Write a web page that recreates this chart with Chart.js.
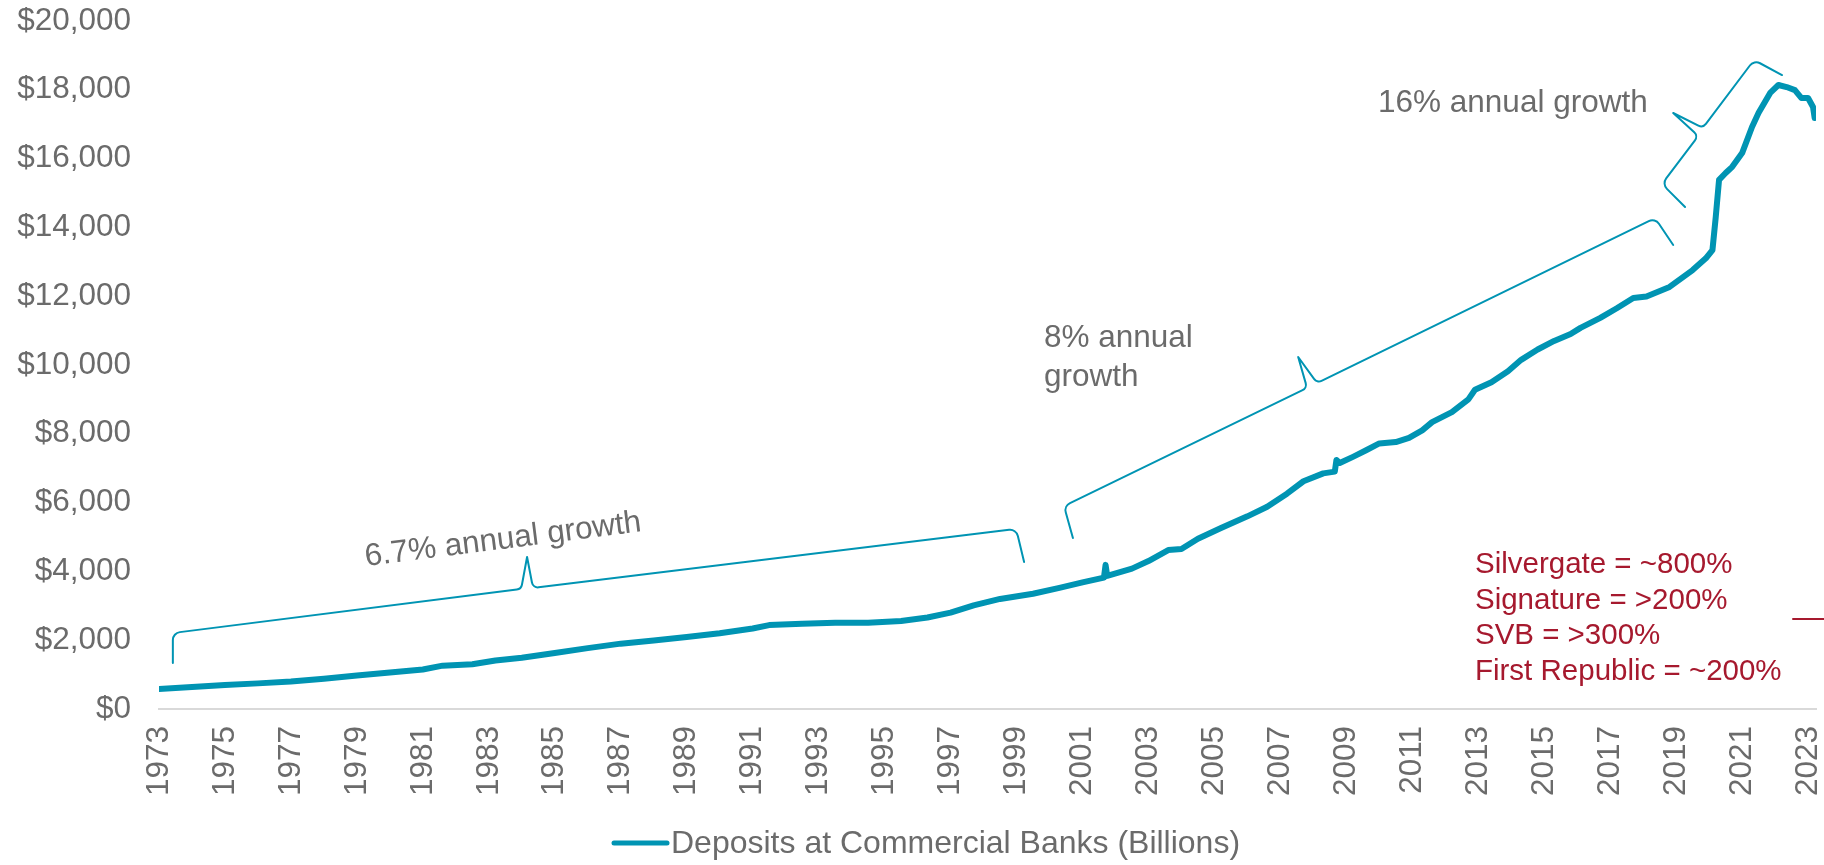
<!DOCTYPE html>
<html>
<head>
<meta charset="utf-8">
<title>Deposits at Commercial Banks</title>
<script src="https://cdn.jsdelivr.net/npm/chart.js@4.4.0/dist/chart.umd.min.js"></script>
<style>
  html, body { margin: 0; padding: 0; background: #fff; }
  #chart { display: block; }
</style>
</head>
<body>
<canvas id="chart" width="1824" height="865"></canvas>
<script>
'use strict';

// ***** DATA *****
const years = [
  1973.0, 1974.0, 1975.0, 1976.0, 1977.0, 1978.0, 1979.0, 1980.0, 1981.0, 1981.6,
  1982.5, 1983.2, 1984.0, 1985.0, 1986.0, 1987.0, 1988.0, 1989.0, 1990.0, 1991.0,
  1991.5, 1992.5, 1993.5, 1994.5, 1995.5, 1996.3, 1997.0, 1997.7, 1998.5, 1999.5,
  2000.3, 2001.0, 2001.65, 2001.7, 2001.75, 2002.5, 2003.0, 2003.6, 2004.0, 2004.5,
  2005.2, 2006.0, 2006.6, 2007.2, 2007.7, 2008.3, 2008.65, 2008.7, 2008.8, 2009.2,
  2009.6, 2010.0, 2010.5, 2010.9, 2011.3, 2011.6, 2012.2, 2012.7, 2012.9, 2013.4,
  2013.9, 2014.3, 2014.8, 2015.3, 2015.8, 2016.1, 2016.7, 2017.2, 2017.7, 2018.1,
  2018.8, 2019.5, 2019.9, 2020.1, 2020.2, 2020.3, 2020.5, 2020.7, 2021.0, 2021.3,
  2021.5, 2021.85, 2022.1, 2022.35, 2022.6, 2022.8, 2023.0, 2023.15, 2023.2
];
const deposits = [
  580, 640, 700, 745, 800, 880, 975, 1060, 1150, 1260,
  1300, 1410, 1490, 1630, 1770, 1900, 1990, 2090, 2200, 2340,
  2440, 2480, 2510, 2510, 2560, 2660, 2800, 3010, 3200, 3350,
  3520, 3680, 3820, 4190, 3870, 4080, 4300, 4620, 4650, 4950,
  5260, 5600, 5880, 6260, 6620, 6850, 6900, 7240, 7150, 7330,
  7520, 7720, 7760, 7880, 8100, 8340, 8630, 9000, 9280, 9500,
  9820, 10150, 10450, 10700, 10900, 11080, 11370, 11650, 11950, 11990,
  12270, 12760, 13100, 13340, 14300, 15380, 15580, 15760, 16160, 16920,
  17330, 17910, 18140, 18080, 17990, 17760, 17760, 17500, 17180
];
const yearTicks = [
  1973, 1975, 1977, 1979, 1981, 1983, 1985, 1987, 1989, 1991, 1993, 1995, 1997,
  1999, 2001, 2003, 2005, 2007, 2009, 2011, 2013, 2015, 2017, 2019, 2021, 2023
];
const depositTicks = [0, 2000, 4000, 6000, 8000, 10000, 12000, 14000, 16000, 18000, 20000];
const seriesLabel = 'Deposits at Commercial Banks (Billions)';

// growth braces as [year, billions]: tail, corner, tip base, tip, tip base, corner, tail
const braceEarly = [
  [1973.42, 1337], [1973.42, 2209], [1983.98, 3488], [1984.16, 4419],
  [1984.34, 3517], [1998.99, 5233], [1999.23, 4273]
];
const braceMiddle = [
  [2000.71, 4971], [2000.44, 5901], [2007.81, 9332], [2007.54, 10233],
  [2008.11, 9477], [2018.36, 14273], [2018.91, 13488]
];
const braceLate = [
  [2022.21, 18430], [2021.36, 18866], [2019.81, 16890], [2018.91, 17326],
  [2019.67, 16657], [2018.57, 15262], [2019.27, 14593]
];
const growthEarly = '6.7% annual growth';
const growthMiddle = ['8% annual', 'growth'];
const growthLate = '16% annual growth';
const bankNotes = ['Silvergate = ~800%', 'Signature = >200%', 'SVB = >300%', 'First Republic = ~200%'];

// ***** STYLE *****
const TEAL = '#0094b3';
const GREY = '#6b6b6b';
const RED = '#a6192e';
const FONT = "'Liberation Sans', Arial, sans-serif";
const braceRadii = [0, 8, 6, 0, 6, 8, 0];

function toPx(chart, pt){
  return [chart.scales.x.getPixelForValue(pt[0]), chart.scales.y.getPixelForValue(pt[1])];
}

function strokeBrace(ctx, chart, pts){
  const px = pts.map(p => toPx(chart, p));
  const last = px.length - 1;
  ctx.beginPath();
  ctx.moveTo(px[0][0], px[0][1]);
  for (let i = 1; i < last; i++){
    ctx.arcTo(px[i][0], px[i][1], px[i + 1][0], px[i + 1][1], braceRadii[i]);
  }
  ctx.lineTo(px[last][0], px[last][1]);
  ctx.stroke();
}

// braces, growth notes, bank notes and the legend
const notesPlugin = {
  id: 'notes',
  afterDraw(chart){
    const ctx = chart.ctx;
    ctx.save();

    ctx.strokeStyle = TEAL;
    ctx.lineWidth = 2;
    ctx.lineJoin = 'round';
    ctx.lineCap = 'round';
    strokeBrace(ctx, chart, braceEarly);
    strokeBrace(ctx, chart, braceMiddle);
    strokeBrace(ctx, chart, braceLate);

    ctx.fillStyle = GREY;
    ctx.font = `31.5px ${FONT}`;
    ctx.textBaseline = 'middle';

    // early note follows the slope of its brace
    const a = toPx(chart, braceEarly[1]);
    const b = toPx(chart, braceEarly[2]);
    const [ex, ey] = toPx(chart, [1983.43, 4913]);
    ctx.save();
    ctx.translate(ex, ey);
    ctx.rotate(Math.atan2(b[1] - a[1], b[0] - a[0]));
    ctx.textAlign = 'center';
    ctx.fillText(growthEarly, 0, 0);
    ctx.restore();

    ctx.textAlign = 'left';
    const [mx, my] = toPx(chart, [1999.83, 10785]);
    growthMiddle.forEach((line, i) => ctx.fillText(line, mx, my + i * 39));

    const [lx, ly] = toPx(chart, [2009.96, 17616]);
    ctx.fillText(growthLate, lx, ly);

    ctx.fillStyle = RED;
    ctx.font = `29.5px ${FONT}`;
    const [bx, by] = toPx(chart, [2012.9, 4186]);
    bankNotes.forEach((line, i) => ctx.fillText(line, bx, by + i * 35.5));

    const [rx, ry] = toPx(chart, [2022.52, 2616]);
    ctx.strokeStyle = RED;
    ctx.lineWidth = 2;
    ctx.lineCap = 'butt';
    ctx.beginPath();
    ctx.moveTo(rx, ry);
    ctx.lineTo(chart.width, ry);
    ctx.stroke();

    // legend
    ctx.strokeStyle = TEAL;
    ctx.lineWidth = 5;
    ctx.lineCap = 'round';
    ctx.beginPath();
    ctx.moveTo(614, 843);
    ctx.lineTo(667, 843);
    ctx.stroke();
    ctx.fillStyle = GREY;
    ctx.font = `32px ${FONT}`;
    ctx.fillText(seriesLabel, 671, 844);

    ctx.restore();
  }
};

// ***** CHART *****
const points = years.map((yr, i) => ({x: yr, y: deposits[i]}));

new Chart(document.getElementById('chart'), {
  type: 'line',
  data: {
    datasets: [{
      label: seriesLabel,
      data: points,
      borderColor: TEAL,
      backgroundColor: TEAL,
      borderWidth: 6,
      borderJoinStyle: 'round',
      borderCapStyle: 'round',
      pointRadius: 0,
      tension: 0
    }]
  },
  options: {
    responsive: false,
    animation: false,
    devicePixelRatio: 1,
    layout: { padding: { top: 21, right: 8, bottom: 56, left: 0 } },
    plugins: {
      legend: { display: false },
      tooltip: { enabled: false }
    },
    scales: {
      x: {
        type: 'linear',
        min: 1973,
        max: 2023.24,
        afterBuildTicks(scale){ scale.ticks = yearTicks.map(v => ({value: v})); },
        afterFit(scale){
          scale.height = 100;
          scale.paddingLeft = 0;
          scale.paddingRight = 0;
        },
        grid: { display: false, drawTicks: false },
        border: { display: true, color: '#d9d9d9', width: 2 },
        ticks: {
          autoSkip: false,
          minRotation: 90,
          maxRotation: 90,
          padding: 17,
          color: GREY,
          font: { family: FONT, size: 31.5 },
          callback: v => String(v)
        }
      },
      y: {
        min: 0,
        max: 20000,
        afterBuildTicks(scale){ scale.ticks = depositTicks.map(v => ({value: v})); },
        afterFit(scale){
          scale.width = 159;
          scale.paddingTop = 0;
          scale.paddingBottom = 0;
        },
        grid: { display: false, drawTicks: false },
        border: { display: false },
        ticks: {
          padding: 28,
          color: GREY,
          font: { family: FONT, size: 31.5 },
          callback: v => '$' + v.toLocaleString('en-US')
        }
      }
    }
  },
  plugins: [notesPlugin]
});
</script>
</body>
</html>
